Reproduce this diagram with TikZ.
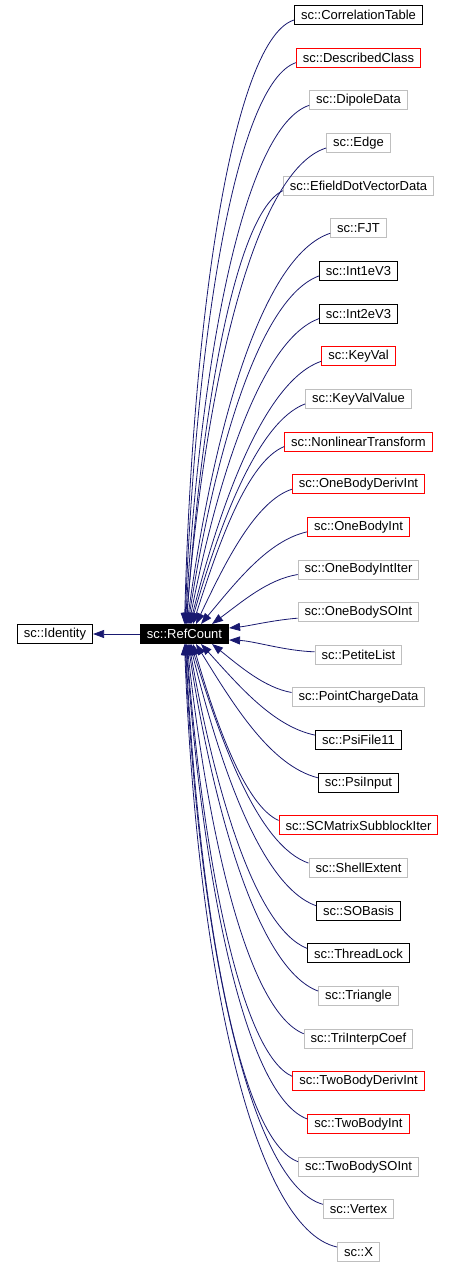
\documentclass[tikz,border=0pt]{standalone}
\usepackage{fontspec}
\setmainfont{Liberation Sans}
\usetikzlibrary{arrows.meta}
\definecolor{edgeblue}{RGB}{25,25,112}
\definecolor{boxgray}{RGB}{191,191,191}
\definecolor{boxred}{RGB}{255,0,0}
\begin{document}
\begin{tikzpicture}[x=1pt,y=-1pt,
  cls/.style={draw=#1, line width=1pt, font=\fontsize{13}{15}\selectfont, inner xsep=6.5pt, inner ysep=0pt, minimum height=19pt, fill=white},
  edge/.style={draw=edgeblue, line width=0.8pt, -{Triangle[length=11pt,width=8pt]}}]
\useasboundingbox (0,0) rectangle (457,1268);
\node[cls=black, fill=black, text=white] (rc) at (184.5,634) {sc::RefCount};
\node[cls=black] (id) at (55,634) {sc::Identity};
\draw[edge] (rc) -- (id);
\foreach \i/\name/\col in {
  1/CorrelationTable/black, 2/DescribedClass/boxred, 3/DipoleData/boxgray,
  4/Edge/boxgray, 5/EfieldDotVectorData/boxgray, 6/FJT/boxgray,
  7/Int1eV3/black, 8/Int2eV3/black, 9/KeyVal/boxred, 10/KeyValValue/boxgray,
  11/NonlinearTransform/boxred, 12/OneBodyDerivInt/boxred, 13/OneBodyInt/boxred,
  14/OneBodyIntIter/boxgray, 15/OneBodySOInt/boxgray, 16/PetiteList/boxgray,
  17/PointChargeData/boxgray, 18/PsiFile11/black, 19/PsiInput/black,
  20/SCMatrixSubblockIter/boxred, 21/ShellExtent/boxgray, 22/SOBasis/black,
  23/ThreadLock/black, 24/Triangle/boxgray, 25/TriInterpCoef/boxgray,
  26/TwoBodyDerivInt/boxred, 27/TwoBodyInt/boxred, 28/TwoBodySOInt/boxgray,
  29/Vertex/boxgray, 30/X/boxgray} {
  \pgfmathsetmacro{\yy}{15+42.655*(\i-1)}
  \node[cls=\col] (c\i) at (358.5,\yy) {sc::\name};
}
% upper edges: index / distance / box left x / arrow end x
\foreach \i/\k/\sxx/\ex in {1/15/293/184.5, 2/14/296/185, 3/13/311/185.5, 4/12/328/186,
    5/11/283/186.5, 6/10/332/187, 7/9/319/188, 8/8/319/189, 9/7/321/190, 10/6/304/191,
    11/5/285/193, 12/4/292/196, 13/3/308/201, 14/2/298/212} {
  \pgfmathsetmacro{\ww}{(\k-2)/13}
  \pgfmathsetmacro{\pp}{0.35+0.19*\ww}
  \pgfmathsetmacro{\qq}{0.10-0.07*\ww}
  \pgfmathsetmacro{\uu}{0.35-0.27*\ww}
  \pgfmathsetmacro{\vv}{0.45+0.09*\ww}
  \pgfmathsetmacro{\ddx}{\sxx-\ex}
  \pgfmathsetmacro{\ddy}{624-(15+42.655*(\i-1)+5)}
  \pgfmathsetmacro{\sx}{\ex-184.5}
  \draw[edge] ([yshift=-5pt]c\i.west) .. controls +({-\pp*\ddx},{\qq*\ddy}) and +({\uu*\ddx},{-\vv*\ddy}) .. ([xshift=\sx pt]rc.north);
}
\draw[edge] ([yshift=-6pt]c15.west) .. controls +(-25,2) and +(20,-2) .. ([yshift=6pt]rc.east);
\draw[edge] ([yshift=3pt]c16.west) .. controls +(-30,-1) and +(25,1) .. ([yshift=-6pt]rc.east);
% lower edges
\foreach \i/\k/\sxx/\ex in {30/15/339/184.5, 29/14/323/185, 28/13/299/185.5, 27/12/308/186,
    26/11/291/186.5, 25/10/305/187, 24/9/318/188, 23/8/307/189, 22/7/317/190, 21/6/311/191,
    20/5/276/193, 19/4/320/196, 18/3/316/201, 17/2/290/212} {
  \pgfmathsetmacro{\ww}{(\k-2)/13}
  \pgfmathsetmacro{\pp}{0.35+0.19*\ww}
  \pgfmathsetmacro{\qq}{0.10-0.07*\ww}
  \pgfmathsetmacro{\uu}{0.35-0.27*\ww}
  \pgfmathsetmacro{\vv}{0.45+0.09*\ww}
  \pgfmathsetmacro{\ddx}{\sxx-\ex}
  \pgfmathsetmacro{\ddy}{(15+42.655*(\i-1)-5)-644}
  \pgfmathsetmacro{\sx}{\ex-184.5}
  \draw[edge] ([yshift=5pt]c\i.west) .. controls +({-\pp*\ddx},{-\qq*\ddy}) and +({\uu*\ddx},{\vv*\ddy}) .. ([xshift=\sx pt]rc.south);
}
\end{tikzpicture}
\end{document}
